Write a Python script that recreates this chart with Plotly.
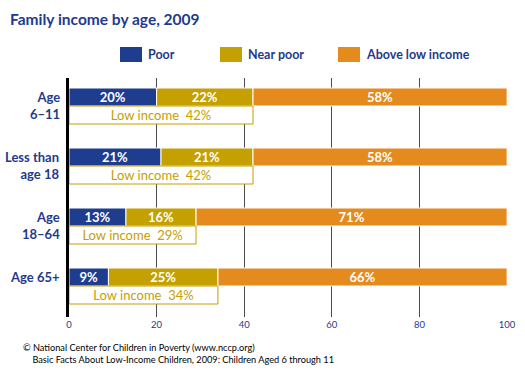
import plotly.graph_objects as go

categories = ["Age<br>6–11", "Less than<br>age 18", "Age<br>18–64", "Age 65+"]
poor = [20, 21, 13, 9]
near_poor = [22, 21, 16, 25]
above_low = [58, 58, 71, 66]
low_income = [42, 42, 29, 34]
series_names = ["Poor", "Near poor", "Above low income"]
x_ticks = [0, 20, 40, 60, 80, 100]

BLUE = "#1f3d8f"
GOLD = "#c4a000"
ORANGE = "#e58a1c"
TXT = "#1f3a8c"
FONT = "Lato"

rows = list(range(len(categories)))
bar_y = [r - 0.15 for r in rows]
box_y = [r + 0.15 for r in rows]
W = 0.3

fig = go.Figure()
bases = [[0] * len(rows), poor, [p + n for p, n in zip(poor, near_poor)]]
vals = [poor, near_poor, above_low]
colors = [BLUE, GOLD, ORANGE]
for name, v, b, c in zip(series_names, vals, bases, colors):
    fig.add_trace(go.Bar(
        y=bar_y, x=v, base=b, orientation="h", width=W, name=name,
        marker=dict(color=c, line=dict(color="white", width=1)),
        text=[f"{t}%" for t in v], textposition="inside", insidetextanchor="middle",
        constraintext="none",
        textfont=dict(color="white", size=13, family=FONT, weight="bold"),
        showlegend=False, hoverinfo="skip",
    ))

fig.add_trace(go.Bar(
    y=box_y, x=low_income, base=[0] * len(rows), orientation="h", width=W,
    name="Low income",
    marker=dict(color="white", line=dict(color=GOLD, width=1)),
    text=[f"Low income  {t}%" for t in low_income], textposition="inside",
    insidetextanchor="middle", constraintext="none",
    textfont=dict(color=GOLD, size=13, family=FONT),
    showlegend=False, hoverinfo="skip",
))

# category labels
for r, lab in zip(rows, categories):
    fig.add_annotation(
        x=-0.016, xref="paper", y=r - 0.32, yref="y", text=lab,
        xanchor="right", yanchor="top", align="right", showarrow=False,
        font=dict(color=TXT, size=13, family=FONT, weight="bold"),
    )

# custom legend
leg_x = [120, 220, 338]
for lx, name, c in zip(leg_x, series_names, colors):
    fig.add_shape(type="rect", xref="paper", yref="paper",
                  x0=(lx - 69) / 439, x1=(lx + 22 - 69) / 439,
                  y0=(317 - 62) / 239, y1=(317 - 47) / 239,
                  fillcolor=c, line=dict(width=0))
    fig.add_annotation(x=(lx + 26 - 69) / 439, xref="paper", y=(317 - 55) / 239, yref="paper",
                       text=name, xanchor="left", yanchor="middle", showarrow=False,
                       font=dict(color=TXT, size=12.5, family=FONT, weight="bold"))

fig.add_annotation(
    x=(21 - 69) / 439, xref="paper", y=(317 - 340) / 239, yref="paper",
    text="© National Center for Children in Poverty (www.nccp.org)<br>"
         "    Basic Facts About Low-Income Children, 2009: Children Aged 6 through 11",
    xanchor="left", yanchor="top", align="left", showarrow=False,
    font=dict(color="black", size=9.2, family=FONT),
)

fig.update_layout(
    width=525, height=375,
    margin=dict(l=69, r=17, t=78, b=58, autoexpand=False),
    paper_bgcolor="white", plot_bgcolor="white",
    barmode="overlay",
    title=dict(text="Family income by age, 2009", x=10 / 525, xanchor="left",
               y=1 - 20 / 375, yanchor="middle", yref="container",
               font=dict(color=TXT, size=15.5, family=FONT, weight="bold")),
    xaxis=dict(range=[0, 100.2], tickvals=x_ticks, showgrid=True, gridcolor="#4a4a4a",
               gridwidth=1, zeroline=False, showline=False, ticks="",
               tickfont=dict(color=TXT, size=9.5, family=FONT)),
    yaxis=dict(range=[3 + 31 / 60, -28 / 60], showticklabels=False, showgrid=False,
               zeroline=False, showline=True, linecolor="black", linewidth=3, ticks=""),
    showlegend=False,
)

fig.write_html("out.html", config={"displayModeBar": False},
               post_script="document.body.style.margin='0';")
